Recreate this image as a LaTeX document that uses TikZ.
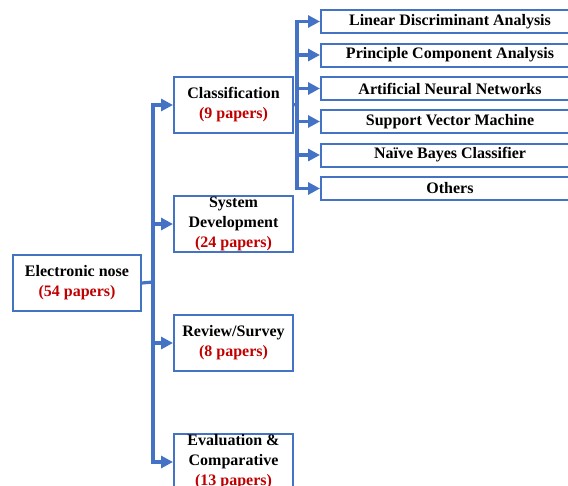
\documentclass[tikz,border=0pt]{standalone}
\usepackage{fontspec}
\setmainfont{Liberation Serif}
\usetikzlibrary{arrows.meta}
\definecolor{lineblue}{HTML}{4472C4}
\definecolor{papred}{HTML}{C00000}
\begin{document}
\begin{tikzpicture}[x=1pt,y=-1pt,
  every node/.style={font=\bfseries\fontsize{16}{20}\selectfont},
  midbox/.style={draw=lineblue,line width=2pt,minimum width=119pt,minimum height=56pt,inner sep=0pt,align=center,anchor=north west},
  rbox/.style={draw=lineblue,line width=2pt,minimum width=258pt,minimum height=23pt,inner sep=0pt,anchor=north west},
  conn/.style={draw=lineblue,line width=3.2pt},
  arr/.style={conn,-{Triangle[length=12pt,width=12pt]}},
  pap/.style={text=papred}]
\useasboundingbox (0,0) rectangle (568,485);
\clip (0,0) rectangle (568,485);
\node[midbox,minimum width=128pt] (en) at (12,254) {Electronic nose\\\textcolor{papred}{(54 papers)}};
\node[midbox] (cls) at (173,76) {Classification\\\textcolor{papred}{(9 papers)}};
\node[midbox] (sys) at (173,195) {System\\Development\\\textcolor{papred}{(24 papers)}};
\node[midbox] (rev) at (173,314) {Review/Survey\\\textcolor{papred}{(8 papers)}};
\node[midbox] (eva) at (173,433) {Evaluation \&\\Comparative\\\textcolor{papred}{(13 papers)}};
\node[rbox] (r1) at (320,9) {Linear Discriminant Analysis};
\node[rbox] (r2) at (320,42.5) {Principle Component Analysis};
\node[rbox] (r3) at (320,76) {Artificial Neural Networks};
\node[rbox] (r4) at (320,109) {Support Vector Machine};
\node[rbox] (r5) at (320,142.5) {Naïve Bayes Classifier};
\node[rbox] (r6) at (320,176) {Others};
\coordinate (tr) at (153,282);
\coordinate (st) at (297,104);
\draw[conn] (en.east) -- (tr);
\draw[arr] (tr) |- (cls.west);
\draw[arr] (tr) |- (sys.west);
\draw[arr] (tr) |- (rev.west);
\draw[arr] (tr) |- (eva.west);
\draw[conn] (cls.east) -- (st);
\foreach \r in {r1,r2,r3,r4,r5,r6}{\draw[arr] (st) |- (\r.west);}
\end{tikzpicture}
\end{document}
